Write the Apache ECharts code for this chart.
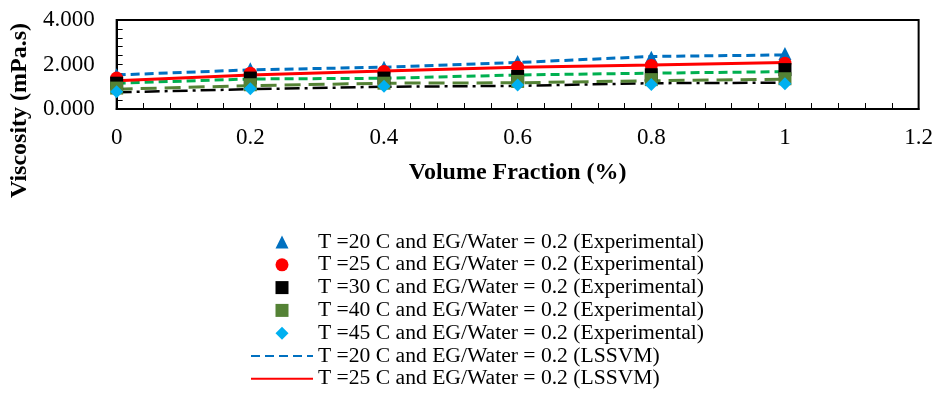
<!DOCTYPE html>
<html>
<head>
<meta charset="utf-8">
<script src="https://cdn.jsdelivr.net/npm/echarts@6/dist/echarts.min.js"></script>
<style>
html,body{margin:0;padding:0;background:#fff;}
#chart{width:936px;height:394px;}
</style>
</head>
<body>
<div id="chart"></div>
<script>
const volumeFraction = [0, 0.2, 0.4, 0.6, 0.8, 1];
const exp20 = [1.54, 1.81, 1.88, 2.14, 2.33, 2.49];
const exp25 = [1.39, 1.61, 1.69, 1.88, 1.96, 2.06];
const exp30 = [1.16, 1.39, 1.39, 1.46, 1.54, 1.77];
const exp40 = [0.94, 1.09, 1.16, 1.24, 1.32, 1.36];
const exp45 = [0.78, 0.91, 1.02, 1.08, 1.10, 1.13];
const lssvm20 = [1.53, 1.76, 1.88, 2.09, 2.36, 2.43];
const lssvm25 = [1.27, 1.53, 1.71, 1.88, 1.98, 2.09];
const lssvm30 = [1.16, 1.35, 1.38, 1.53, 1.61, 1.68];
const lssvm40 = [0.89, 1.05, 1.16, 1.18, 1.27, 1.34];
const lssvm45 = [0.75, 0.89, 1.00, 1.04, 1.16, 1.18];

const names = {
  e20: 'T =20 C and EG/Water = 0.2 (Experimental)',
  e25: 'T =25 C and EG/Water = 0.2 (Experimental)',
  e30: 'T =30 C and EG/Water = 0.2 (Experimental)',
  e40: 'T =40 C and EG/Water = 0.2 (Experimental)',
  e45: 'T =45 C and EG/Water = 0.2 (Experimental)',
  l20: 'T =20 C and EG/Water = 0.2 (LSSVM)',
  l25: 'T =25 C and EG/Water = 0.2 (LSSVM)',
  l30: 'T =30 C and EG/Water = 0.2 (LSSVM)',
  l40: 'T =40 C and EG/Water = 0.2 (LSSVM)',
  l45: 'T =45 C and EG/Water = 0.2 (LSSVM)'
};

const pairs = arr => volumeFraction.map((x, i) => [x, arr[i]]);
const FONT = '"Liberation Serif", "Times New Roman", serif';

function lineSeries(name, arr, color, type, width) {
  return {
    name, type: 'line', data: pairs(arr), symbol: 'none', showSymbol: false,
    lineStyle: { color, width, type }, itemStyle: { color },
    animation: false, z: 2
  };
}
function scatterSeries(name, arr, color, symbol, size) {
  return {
    name, type: 'scatter', data: pairs(arr), symbol, symbolSize: size,
    itemStyle: { color, opacity: 1 }, animation: false, z: 3
  };
}

const legendText = { fontFamily: FONT, fontSize: 21.6, color: '#000', lineHeight: 22.8 };

const chart = echarts.init(document.getElementById('chart'), null, { renderer: 'canvas' });
chart.setOption({
  backgroundColor: '#fff',
  animation: false,
  textStyle: { fontFamily: FONT },
  grid: {
    left: 116, right: 17, top: 20, bottom: 285,
    show: true, borderColor: '#000', borderWidth: 2, backgroundColor: 'transparent'
  },
  xAxis: {
    type: 'value', min: 0, max: 1.2, interval: 0.2,
    name: 'Volume Fraction (%)', nameLocation: 'middle', nameGap: 52,
    nameTextStyle: { fontFamily: FONT, fontWeight: 'bold', fontSize: 24, color: '#000' },
    axisLine: { show: true, onZero: false, lineStyle: { color: '#000', width: 2 } },
    axisTick: { show: true, inside: true, length: 6, lineStyle: { color: '#000', width: 1 } },
    minorTick: { show: true, splitNumber: 5, length: 6, lineStyle: { color: '#000', width: 1 } },
    splitLine: { show: false },
    axisLabel: { fontFamily: FONT, fontSize: 23, color: '#000', margin: 17,
      formatter: v => String(+v.toFixed(1)) }
  },
  yAxis: {
    type: 'value', min: 0, max: 4, interval: 2,
    name: 'Viscosity (mPa.s)', nameLocation: 'middle', nameGap: 81, nameRotate: 90,
    nameTextStyle: { fontFamily: FONT, fontWeight: 'bold', fontSize: 24, color: '#000',
      padding: [0, 92, 0, 0] },
    axisLine: { show: true, onZero: false, lineStyle: { color: '#000', width: 2 } },
    axisTick: { show: true, inside: true, length: 6, lineStyle: { color: '#000', width: 1 } },
    minorTick: { show: true, splitNumber: 5, length: 6, lineStyle: { color: '#000', width: 1 } },
    splitLine: { show: false },
    axisLabel: { fontFamily: FONT, fontSize: 23, color: '#000', margin: 22,
      formatter: v => v.toFixed(3) }
  },
  legend: [
    {
      show: true, orient: 'vertical', left: 275.5, top: 230.6, height: 120, padding: 0,
      itemWidth: 13, itemHeight: 13, itemGap: 0,
      data: [
        { name: names.e20, icon: 'triangle' },
        { name: names.e25, icon: 'circle' },
        { name: names.e30, icon: 'rect' },
        { name: names.e40, icon: 'rect' },
        { name: names.e45, icon: 'diamond' }
      ],
      textStyle: Object.assign({ padding: [0, 0, 0, 24.5] }, legendText),
      selectedMode: false
    },
    {
      show: true, orient: 'vertical', left: 250, top: 344.6, height: 60, padding: 0,
      itemWidth: 62, itemHeight: 13, itemGap: 0,
      itemStyle: { opacity: 0, borderWidth: 0 },
      data: [names.l20, names.l25],
      textStyle: legendText,
      selectedMode: false
    }
  ],
  series: [
    lineSeries(names.l45, lssvm45, '#000000', [15, 5, 3, 5], 2.5),
    lineSeries(names.l40, lssvm40, '#548235', [16, 8], 3),
    lineSeries(names.l30, lssvm30, '#00B050', [9, 5], 3),
    lineSeries(names.l25, lssvm25, '#FF0000', 'solid', 3),
    lineSeries(names.l20, lssvm20, '#0070C0', [9, 5], 3),
    scatterSeries(names.e20, exp20, '#0070C0', 'triangle', 13),
    scatterSeries(names.e25, exp25, '#FF0000', 'circle', 13),
    scatterSeries(names.e30, exp30, '#000000', 'rect', 13),
    scatterSeries(names.e40, exp40, '#548235', 'rect', 13),
    scatterSeries(names.e45, exp45, '#00B0F0', 'diamond', 13)
  ]
});
</script>
</body>
</html>
